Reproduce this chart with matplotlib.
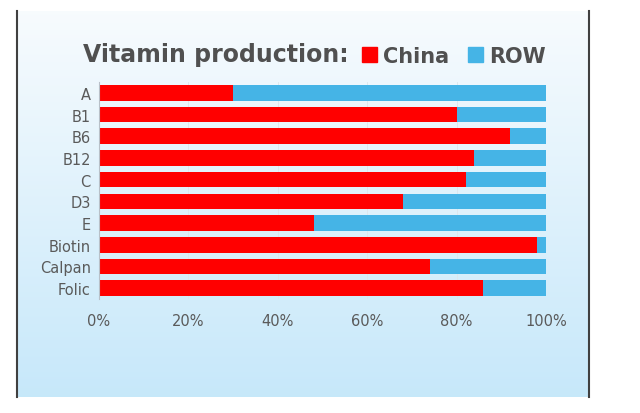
import numpy as np
import matplotlib.pyplot as plt
from matplotlib.patches import Patch

# Data (share of world production, %)
vitamins = ['A', 'B1', 'B6', 'B12', 'C', 'D3', 'E', 'Biotin', 'Calpan', 'Folic']
china = [30, 80, 92, 84, 82, 68, 48, 98, 74, 86]
row = [100 - c for c in china]
xticks = [0, 20, 40, 60, 80, 100]

red = '#ff0000'
blue = '#45b4e6'
grey = '#5a5a5a'

fig = plt.figure(figsize=(6.4, 4.14), dpi=100)

# background panel with gradient
bg = fig.add_axes([17 / 640, 16 / 414, 572 / 640, 386 / 414], zorder=0)
top = np.array([0.97, 0.985, 0.995])
bot = np.array([0.78, 0.91, 0.98])
t = np.linspace(0, 1, 256)[:, None]
grad = top + (bot - top) * t
bg.imshow(grad[:, None, :].repeat(2, axis=1), aspect='auto', extent=[0, 1, 0, 1])
bg.set_xlim(0, 1)
bg.set_ylim(0, 1)
bg.axis('off')
bg.plot([0, 0], [0, 1], color='#404040', lw=1.5, clip_on=False)
bg.plot([1, 1], [0, 1], color='#404040', lw=1.5, clip_on=False)

ax = fig.add_axes([99 / 640, 1 - 300 / 414, 447 / 640, 217 / 414], zorder=1)
ax.patch.set_alpha(0)
y = np.arange(len(vitamins))
ax.barh(y, china, height=0.72, color=red, label='China', zorder=2)
ax.barh(y, row, left=china, height=0.72, color=blue, label='ROW', zorder=2)
ax.set_ylim(len(vitamins) - 0.5, -0.5)
ax.set_xlim(0, 100)
ax.set_yticks(y)
ax.set_yticklabels(vitamins, fontsize=10.5, color=grey)
ax.set_xticks(xticks)
ax.set_xticklabels([f'{v}%' for v in xticks], fontsize=10.5, color=grey)
ax.tick_params(length=0, pad=6)
ax.tick_params(axis='x', pad=10)
ax.grid(axis='x', color='#dce6ec', lw=0.6, zorder=0)
for s in ['top', 'right', 'bottom']:
    ax.spines[s].set_visible(False)
ax.spines['left'].set_color('#b8c0c8')

fig.text(83 / 640, 1 - 55 / 414, 'Vitamin production:', fontsize=17, fontweight='bold',
         color='#505050', va='center', ha='left')
handles = [Patch(color=red, label='China'), Patch(color=blue, label='ROW')]
leg = fig.legend(handles=handles, loc='center left', bbox_to_anchor=(362 / 640, 1 - 57 / 414),
                 ncol=2, frameon=False, fontsize=15, handlelength=0.72, handleheight=0.72,
                 handletextpad=0.3, columnspacing=0.9, borderaxespad=0, borderpad=0)
for txt in leg.get_texts():
    txt.set_color('#505050')
    txt.set_fontweight('semibold')

fig.savefig('out.png', dpi=100)
